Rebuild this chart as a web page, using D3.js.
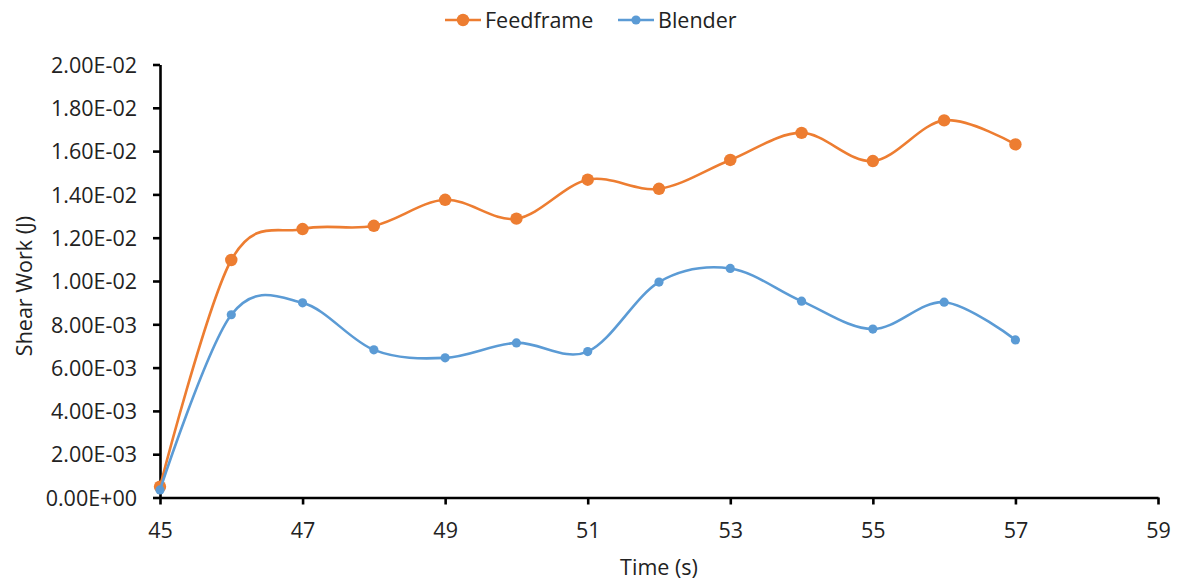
<!DOCTYPE html>
<html><head><meta charset="utf-8">
<script src="https://cdn.jsdelivr.net/npm/d3@7"></script>
<style>
html,body{margin:0;padding:0;background:#fff;}
text{font-family:"Open Sans","Liberation Sans",sans-serif;fill:#222;}
</style></head>
<body><svg id="c" width="1180" height="581"></svg>
<script>
const times = [45,46,47,48,49,50,51,52,53,54,55,56,57];
const feedframe = [0.00050,0.01097,0.01240,0.01255,0.01375,0.01288,0.01468,0.01426,0.01559,0.01684,0.01554,0.01742,0.01631];
const blender = [0.00035,0.00844,0.00899,0.00682,0.00645,0.00714,0.00674,0.00995,0.01058,0.00907,0.00778,0.00902,0.00728];
const xTicks = [45,47,49,51,53,55,57,59];
const yTicks = [0,0.002,0.004,0.006,0.008,0.010,0.012,0.014,0.016,0.018,0.020];
const seriesNames = ["Feedframe","Blender"];
const colors = ["#ED7D31","#5B9BD5"];
const FS = "21.5px";

const svg = d3.select("#c");
const x = d3.scaleLinear().domain([45,59]).range([160,1158]);
const y = d3.scaleLinear().domain([0,0.02]).range([497.5,64.5]);

const fmt = v => {
  const s = v.toExponential(2).toUpperCase();
  return s.replace(/E([+-])(\d)$/, "E$10$2");
};

// axes
const yAxis = svg.append("g").attr("transform","translate(160,0)")
  .call(d3.axisLeft(y).tickValues(yTicks).tickSize(7).tickSizeOuter(0).tickFormat(fmt));
const xAxis = svg.append("g").attr("transform","translate(0,497.5)")
  .call(d3.axisBottom(x).tickValues(xTicks).tickSize(7).tickSizeOuter(0).tickFormat(d3.format("d")));
[yAxis,xAxis].forEach(a=>{
  a.selectAll("path.domain").attr("stroke","#000").attr("stroke-width",2.6);
  a.selectAll(".tick line").attr("stroke","#000").attr("stroke-width",2.6);
  a.selectAll(".tick text").style("font-size",FS).attr("fill","#222");
});
yAxis.selectAll(".tick text").attr("x",-23).attr("dy","0.36em");
xAxis.selectAll(".tick text").attr("y",25);

// axis titles
svg.append("text").attr("x",659).attr("y",575).attr("text-anchor","middle")
  .style("font-size",FS).text("Time (s)");
svg.append("text").attr("transform","translate(32,286) rotate(-90)").attr("text-anchor","middle")
  .style("font-size",FS).text("Shear Work (J)");

const line = d3.line().x((d,i)=>x(times[i])).y(d=>y(d)).curve(d3.curveCardinal.tension(0));
const data = [feedframe, blender];
const radii = [6.2,4.6];
data.forEach((s,k)=>{
  svg.append("path").attr("d",line(s)).attr("fill","none")
    .attr("stroke",colors[k]).attr("stroke-width",2.6);
  svg.append("g").selectAll("circle").data(s).join("circle")
    .attr("cx",(d,i)=>x(times[i])).attr("cy",d=>y(d)).attr("r",radii[k]).attr("fill",colors[k]);
});

// legend
const legX = [445,618];
seriesNames.forEach((n,k)=>{
  const g = svg.append("g").attr("transform",`translate(${legX[k]},20)`);
  g.append("line").attr("x1",0).attr("x2",36).attr("y1",0).attr("y2",0)
    .attr("stroke",colors[k]).attr("stroke-width",2.6);
  g.append("circle").attr("cx",18).attr("cy",0).attr("r",radii[k]).attr("fill",colors[k]);
  g.append("text").attr("x",40).attr("y",0).attr("dy","0.36em").style("font-size",FS).text(n);
});
</script></body></html>
